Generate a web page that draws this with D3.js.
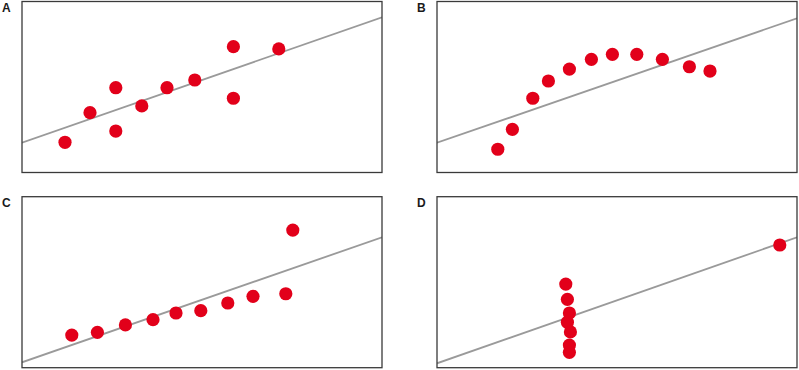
<!DOCTYPE html>
<html>
<head>
<meta charset="utf-8">
<script src="https://cdnjs.cloudflare.com/ajax/libs/d3/7.8.5/d3.min.js"></script>
<style>
  html, body { margin: 0; padding: 0; background: #fff; }
  svg { display: block; }
</style>
</head>
<body>
<svg id="chart" width="799" height="370"></svg>
<script>
// Panel labels
const panelLabels = ["A", "B", "C", "D"];

// Panel A
const aX = [2.15, 3.40, 4.69, 4.69, 5.99, 7.25, 8.64, 10.57, 10.57, 12.84];
const aY = [2.12, 4.20, 5.95, 2.91, 4.67, 5.95, 6.49, 8.83, 5.21, 8.67];
// Panel B
const bX = [3.04, 3.77, 4.79, 5.57, 6.62, 7.72, 8.77, 9.99, 11.27, 12.62, 13.65];
const bY = [1.63, 3.03, 5.21, 6.42, 7.26, 7.94, 8.29, 8.29, 7.94, 7.42, 7.12];
// Panel C
const cX = [2.49, 3.77, 5.17, 6.55, 7.70, 8.94, 10.29, 11.55, 13.19, 13.54];
const cY = [2.29, 2.48, 3.00, 3.37, 3.84, 4.00, 4.54, 5.01, 5.19, 9.66];
// Panel D
const dX = [6.44, 6.52, 6.62, 6.52, 6.67, 6.62, 6.62, 17.14];
const dY = [5.87, 4.80, 3.84, 3.19, 2.51, 1.59, 1.08, 8.61];

// Fitted lines: [x0, y0, x1, y1]
const lineA = [0, 2.09, 18, 10.89];
const lineB = [0, 2.09, 18, 10.82];
const lineC = [0, 0.38, 18, 9.15];
const lineD = [0, 0.31, 18, 9.15];

const xDomain = [0, 18];
const yDomain = [0, 12];

const panels = [
  { label: panelLabels[0], xs: aX, ys: aY, line: lineA, col: 0, row: 0 },
  { label: panelLabels[1], xs: bX, ys: bY, line: lineB, col: 1, row: 0 },
  { label: panelLabels[2], xs: cX, ys: cY, line: lineC, col: 0, row: 1 },
  { label: panelLabels[3], xs: dX, ys: dY, line: lineD, col: 1, row: 1 }
];

const W = 360, H = 171;
const lefts = [22, 437];
const tops = [1.5, 196.7];

const svg = d3.select("#chart");

panels.forEach(p => {
  const x0 = lefts[p.col], y0 = tops[p.row];
  const x = d3.scaleLinear().domain(xDomain).range([0, W]);
  const y = d3.scaleLinear().domain(yDomain).range([H, 0]);
  const g = svg.append("g").attr("transform", `translate(${x0},${y0})`);

  g.append("defs").append("clipPath").attr("id", "clip" + p.label)
    .append("rect").attr("width", W).attr("height", H);

  g.append("line")
    .attr("clip-path", `url(#clip${p.label})`)
    .attr("x1", x(p.line[0])).attr("y1", y(p.line[1]))
    .attr("x2", x(p.line[2])).attr("y2", y(p.line[3]))
    .attr("stroke", "#9a9a9a").attr("stroke-width", 1.8);

  const pts = p.xs.map((v, i) => ({ x: v, y: p.ys[i] }));
  g.selectAll("circle").data(pts).enter().append("circle")
    .attr("cx", d => x(d.x)).attr("cy", d => y(d.y))
    .attr("r", 6.6).attr("fill", "#e2001a");

  g.append("rect").attr("width", W).attr("height", H)
    .attr("fill", "none").attr("stroke", "#3a3a3a").attr("stroke-width", 1.3);

  svg.append("text")
    .attr("x", x0 - 20).attr("y", y0 + 10)
    .attr("font-family", "Liberation Sans, Arial, sans-serif")
    .attr("font-weight", "bold").attr("font-size", 12)
    .attr("fill", "#1a1a1a")
    .text(p.label);
});
</script>
</body>
</html>
